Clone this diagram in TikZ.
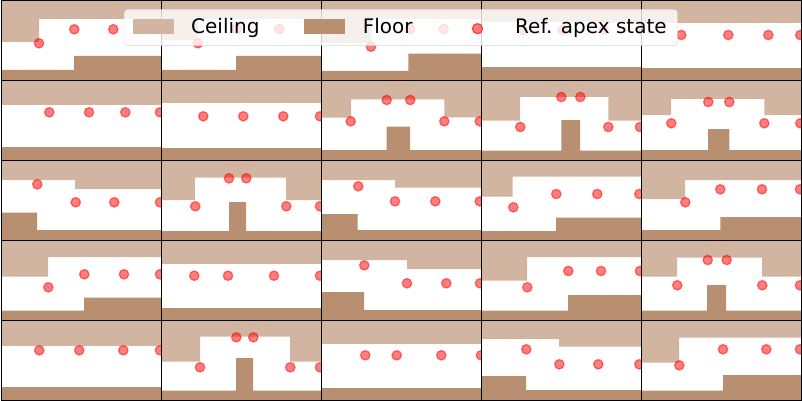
\documentclass[tikz,border=0pt]{standalone}
\usepackage{fontspec}
\setmainfont{DejaVu Sans}
\definecolor{ceilcol}{RGB}{209,181,161}
\definecolor{floorcol}{RGB}{185,143,113}
\definecolor{keyfill}{RGB}{255,120,120}
\definecolor{keyedge}{RGB}{245,70,70}

% one panel: column, row, ceiling path, floor path, apex states
\newcommand{\terrain}[5]{%
  \begin{scope}
    \clip (160*#1+1.2,80*#2+0.6) rectangle ++(160,80);
    \fill[ceilfill] #3;
    \fill[floorfill] #4;
    \foreach \px/\py in {#5} \filldraw[apexdot] (\px,\py) circle (4.7);
  \end{scope}
  \draw[cellframe] (160*#1+1.2,80*#2+0.6) rectangle ++(160,80);
}

\begin{document}
\begin{tikzpicture}[x=1pt, y=-1pt,
  ceilfill/.style={fill=ceilcol},
  floorfill/.style={fill=floorcol},
  apexdot/.style={fill=red, draw=red, fill opacity=0.5, draw opacity=0.5, line width=1.3pt},
  cellframe/.style={draw=black, line width=1.4pt},
  legtext/.style={anchor=base west, inner sep=0pt, font=\fontsize{20}{24}\selectfont},
  legkey/.style={minimum width=41.3pt, minimum height=14.4pt, inner sep=0pt}]
\useasboundingbox (0,0) rectangle (802,401);

% row 0
\terrain{0}{0}{(0,-2) rectangle (165,19) (0,-2) rectangle (39,42)}
  {(0,70) rectangle (165,85) (74,56) rectangle (165,85)}
  {39/43.3, 74.3/29.3, 113.3/29.3, 160/29.3}
\terrain{1}{0}{(160,-2) rectangle (325,19) (160,-2) rectangle (198,40)}
  {(160,70) rectangle (325,85) (236,56) rectangle (325,85)}
  {198/43.3, 237/29, 279.3/29, 320.3/29}
\terrain{2}{0}{(320,-2) rectangle (485,19) (320,-2) rectangle (371,43)}
  {(320,71) rectangle (485,85) (408.3,53.7) rectangle (485,85)}
  {371/46.7, 410/29, 443.7/29, 481/29}
\terrain{3}{0}{(480,-2) rectangle (645,21.7)}
  {(480,66.7) rectangle (645,85)}
  {522.7/30, 562.7/30, 603.7/29.5, 641/29.5}
\terrain{4}{0}{(640,-2) rectangle (805,22.7)}
  {(640,67.7) rectangle (805,85)}
  {681.3/35, 728.3/35, 768.3/35, 800.3/35}

% row 1
\terrain{0}{1}{(0,78) rectangle (165,105)}
  {(0,146.7) rectangle (165,165)}
  {49.3/112.3, 89/112.3, 125.3/112.3, 160/112.3}
\terrain{1}{1}{(160,78) rectangle (325,103)}
  {(160,147.7) rectangle (325,165)}
  {203.3/116.3, 243.3/116.3, 283.3/116.3, 320/116.3}
\terrain{2}{1}{(320,78) rectangle (485,99.3) (320,78) rectangle (351,117.7) (444.3,78) rectangle (485,117.3)}
  {(320,150) rectangle (485,165) (386.7,126.7) rectangle (410,165)}
  {350.7/121.3, 386.7/100, 410.3/100, 444.3/121.3, 479.7/121.3}
\terrain{3}{1}{(480,78) rectangle (645,97) (480,78) rectangle (520,120.7) (608.3,78) rectangle (645,120.7)}
  {(480,150.7) rectangle (645,165) (561.3,120) rectangle (580,165)}
  {520.3/127, 561.3/97, 580.3/97, 608.3/127, 640/127}
\terrain{4}{1}{(640,78) rectangle (805,99) (640,78) rectangle (671,115) (764.3,78) rectangle (805,115)}
  {(640,150) rectangle (805,165) (708,129) rectangle (729.3,165)}
  {671.3/123.3, 708.3/102, 729.3/102, 764.3/123.3, 800.3/123.3}

% row 2
\terrain{0}{2}{(0,158) rectangle (165,180) (75,158) rectangle (165,189)}
  {(0,230) rectangle (165,245) (0,212.7) rectangle (37,245)}
  {37.3/184.3, 75.7/202.3, 114.3/202.3, 160/202.3}
\terrain{1}{2}{(160,158) rectangle (325,177.7) (160,158) rectangle (195,200) (286,158) rectangle (325,200)}
  {(160,231) rectangle (325,245) (229,202) rectangle (246,245)}
  {195.3/206.3, 229/178.3, 246.3/178.3, 286.3/206.3, 320/206.3}
\terrain{2}{2}{(320,158) rectangle (485,180) (395,158) rectangle (485,187.7)}
  {(320,230) rectangle (485,245) (320,214) rectangle (357.7,245)}
  {358.3/186.3, 395/201.3, 435.3/201.3, 479.7/201.3}
\terrain{3}{2}{(480,158) rectangle (645,176.7) (480,158) rectangle (512.7,196.7)}
  {(480,231) rectangle (645,245) (556,217.7) rectangle (645,245)}
  {513.3/207.3, 556.3/194, 597.3/194, 639.3/194}
\terrain{4}{2}{(640,158) rectangle (805,180) (640,158) rectangle (685,199)}
  {(640,230) rectangle (805,245) (720.3,217) rectangle (805,245)}
  {685.3/202.3, 720.3/189.3, 762/189.3, 800/189.3}

% row 3
\terrain{0}{3}{(0,238) rectangle (165,257) (0,238) rectangle (48,276.7)}
  {(0,310.7) rectangle (165,325) (84,297.7) rectangle (165,325)}
  {48.3/287.3, 84.3/274.3, 124/274.3, 160/274.3}
\terrain{1}{3}{(160,238) rectangle (325,264)}
  {(160,308) rectangle (325,325)}
  {194.3/275.7, 228/275.7, 274/275.7, 320/275.7}
\terrain{2}{3}{(320,238) rectangle (485,260) (407,238) rectangle (485,269)}
  {(320,310) rectangle (485,325) (320,292) rectangle (364,325)}
  {364.3/265.3, 407/283.3, 446.3/283.3, 480/283.3}
\terrain{3}{3}{(480,238) rectangle (645,257) (480,238) rectangle (527,280.7)}
  {(480,310.7) rectangle (645,325) (568,295) rectangle (645,325)}
  {527.3/287.3, 568.3/271, 601/271, 640/271}
\terrain{4}{3}{(640,238) rectangle (805,257.7) (640,238) rectangle (677,276.7) (762,238) rectangle (805,276.7)}
  {(640,310.7) rectangle (805,325) (707,285) rectangle (726,325)}
  {677.3/285.3, 707.7/260, 726.7/260, 762.3/285.3, 800/285.3}

% row 4
\terrain{0}{4}{(0,318) rectangle (165,345.7)}
  {(0,387) rectangle (165,405)}
  {39.3/350.3, 79.3/350.3, 123.3/350.3, 160/350.3}
\terrain{1}{4}{(160,318) rectangle (325,336.7) (160,318) rectangle (200,361.7) (290,318) rectangle (325,361.7)}
  {(160,390.7) rectangle (325,405) (236,358) rectangle (253,405)}
  {200/367.3, 236.3/337.3, 253.3/337.3, 290.3/367.3, 320/367.3}
\terrain{2}{4}{(320,318) rectangle (485,343.7)}
  {(320,388.3) rectangle (485,405)}
  {365.3/355.3, 396.7/355.3, 441.3/355.3, 481/355.3}
\terrain{3}{4}{(480,318) rectangle (645,339) (559,318) rectangle (645,346.7)}
  {(480,390) rectangle (645,405) (480,376) rectangle (526,405)}
  {526.3/349.3, 559.3/364.3, 598.3/364.3, 639.3/364.3}
\terrain{4}{4}{(640,318) rectangle (805,337.7) (640,318) rectangle (679,362.7)}
  {(640,390.7) rectangle (805,405) (723,375) rectangle (805,405)}
  {679.3/365.3, 723/349.3, 766.3/349.3, 800/349.3}

% legend
\node[draw=black!20, draw opacity=0.8, fill=white, fill opacity=0.8, rounded corners=4pt,
  minimum width=553.7pt, minimum height=36.4pt, inner sep=0pt] (legend) at (400.85,27.5) {};
\node[legkey, fill=ceilcol] (ceilkey) at (153.35,26.5) {};
\node[legtext] (ceiltext) at (191,34) {Ceiling};
\node[legkey, fill=floorcol] (floorkey) at (324.5,26.5) {};
\node[legtext] (floortext) at (362.7,34) {Floor};
\node[circle, fill=keyfill, draw=keyedge, line width=1.3pt, minimum size=10pt, inner sep=0pt] (apexkey) at (477.5,28.7) {};
\node[legtext] (apextext) at (515,34) {Ref. apex state};
\end{tikzpicture}
\end{document}
